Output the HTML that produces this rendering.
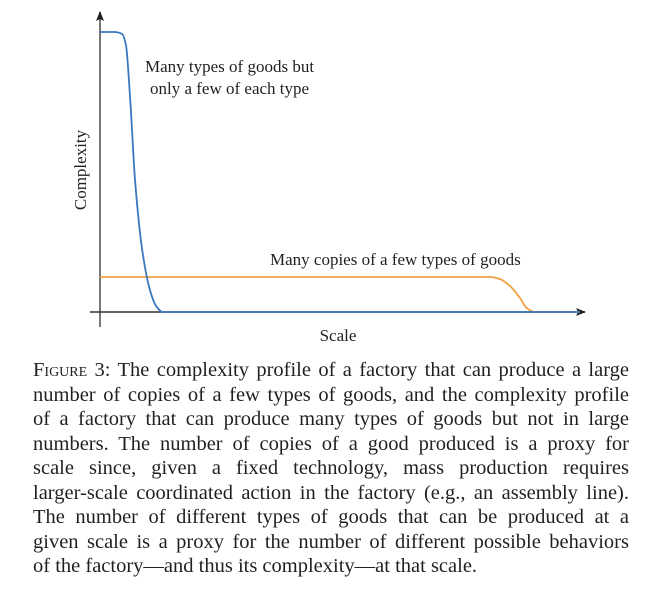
<!DOCTYPE html>
<html><head><meta charset="utf-8">
<style>
body{margin:0;background:#fff;width:665px;height:608px;overflow:hidden;font-family:"Liberation Serif",serif;color:#231f20}
#cap{position:absolute;left:33px;top:358px;width:596px;font-size:20.5px;line-height:24.5px}
#cap div{text-align:justify;text-align-last:justify;white-space:nowrap}
#cap div.last{text-align-last:left}
.sc{font-variant:small-caps}
</style></head><body>
<svg width="665" height="350" style="position:absolute;left:0;top:0">
<defs><marker id="ar" markerWidth="10" markerHeight="8" refX="9" refY="4" orient="auto" markerUnits="userSpaceOnUse"><path d="M0,0 L10,4 L0,8 L2,4z" fill="#231f20"/></marker></defs>
<line x1="100" y1="327" x2="100" y2="12" stroke="#555" stroke-width="1.6" marker-end="url(#ar)"/>
<line x1="90" y1="312" x2="585" y2="312" stroke="#333" stroke-width="1.6" marker-end="url(#ar)"/>
<g id="series"></g>
<text x="145" y="72" font-size="17" fill="#231f20">Many types of goods but</text>
<text x="150" y="94" font-size="17" fill="#231f20">only a few of each type</text>
<text x="270" y="265" font-size="17" fill="#231f20">Many copies of a few types of goods</text>
<text x="338" y="341" font-size="17" text-anchor="middle" fill="#231f20">Scale</text>
<text transform="translate(86,170) rotate(-90)" font-size="17" text-anchor="middle" fill="#231f20">Complexity</text>
</svg>
<div id="cap">
<div><span class="sc">Figure</span> 3: The complexity profile of a factory that can produce a large</div>
<div>number of copies of a few types of goods, and the complexity profile</div>
<div>of a factory that can produce many types of goods but not in large</div>
<div>numbers. The number of copies of a good produced is a proxy for</div>
<div>scale since, given a fixed technology, mass production requires</div>
<div>larger-scale coordinated action in the factory (e.g., an assembly line).</div>
<div>The number of different types of goods that can be produced at a</div>
<div>given scale is a proxy for the number of different possible behaviors</div>
<div class="last">of the factory—and thus its complexity—at that scale.</div>
</div>
<script>
const blueX=[0,3,4.6,5.4,6.3,7.3,8.8,10.4,11.7,13.1,100];
const blueY=[100,100,99.3,95.4,75.7,47.1,22.1,7.9,2.1,0,0];
const orangeX=[0,81.3,83.3,85.4,87.5,88.9,90.6,100];
const orangeY=[12.5,12.5,11.8,9.3,5,1.4,0,0];
const sx=v=>100+v*4.8, sy=v=>312-v*2.8;
function path(xs,ys){
  const n=xs.length, d=[], m=[];
  for(let i=0;i<n-1;i++) d.push((ys[i+1]-ys[i])/(xs[i+1]-xs[i]));
  m[0]=d[0]; m[n-1]=d[n-2];
  for(let i=1;i<n-1;i++){
    if(d[i-1]*d[i]<=0) m[i]=0;
    else { const w1=2*(xs[i+1]-xs[i])+(xs[i]-xs[i-1]), w2=(xs[i+1]-xs[i])+2*(xs[i]-xs[i-1]);
      m[i]=(w1+w2)/(w1/d[i-1]+w2/d[i]); }
  }
  let s='M'+sx(xs[0])+','+sy(ys[0]);
  for(let i=0;i<n-1;i++){
    const h=(xs[i+1]-xs[i])/3;
    s+=` C${sx(xs[i]+h)},${sy(ys[i]+m[i]*h)} ${sx(xs[i+1]-h)},${sy(ys[i+1]-m[i+1]*h)} ${sx(xs[i+1])},${sy(ys[i+1])}`;
  }
  return s;
}
const g=document.getElementById('series');
function add(xs,ys,color,name){
  const el=document.createElementNS('http://www.w3.org/2000/svg','path');
  el.setAttribute('d',path(xs,ys));
  el.setAttribute('fill','none');
  el.setAttribute('stroke',color);
  el.setAttribute('stroke-width','1.8');
  
  
  g.appendChild(el);
}
add(orangeX,orangeY,'#f0a040','orange-line-many-copies');
add(blueX,blueY,'#3a78c0','blue-line-many-types');
</script>
</body></html>
